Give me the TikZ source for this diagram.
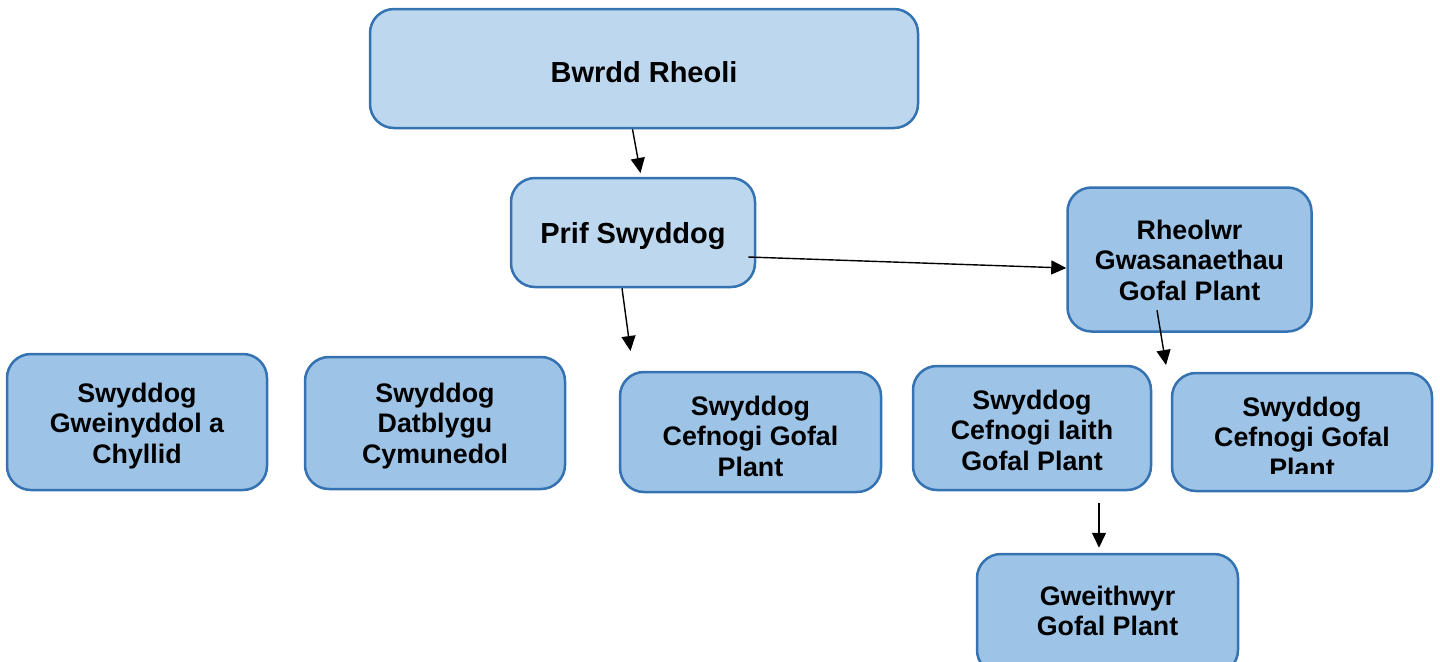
\documentclass[tikz,border=0pt]{standalone}
\usepackage{fontspec}
\setmainfont{Liberation Sans}
\usetikzlibrary{arrows.meta,calc}
\definecolor{bord}{RGB}{52,114,178}
\definecolor{lightfill}{RGB}{189,215,238}
\definecolor{midfill}{RGB}{157,195,230}
\begin{document}
\begin{tikzpicture}[x=0.5pt,y=-0.5pt,
  box/.style={draw=bord, line width=1.25pt, rounded corners=12pt, inner sep=0pt},
  topbox/.style={box, fill=lightfill},
  subbox/.style={box, fill=midfill},
  lbl/.style={align=center, inner sep=0pt, font=\bfseries\fontsize{13.4}{15.25}\selectfont},
  biglbl/.style={align=center, inner sep=0pt, font=\bfseries\fontsize{14.5}{17}\selectfont},
  conn/.style={-{Triangle[length=7.5pt,width=7pt]}, line width=0.7pt, black}]
\useasboundingbox (0,0) rectangle (1440,661);

% boxes
\node[topbox,minimum width=274pt,minimum height=59.5pt] (bwrdd) at (644,68.5) {};
\node[topbox,minimum width=122pt,minimum height=54.5pt] (prif) at (633,232.5) {};
\node[subbox,minimum width=122pt,minimum height=72pt] (rheolwr) at (1189.5,259.5) {};
\node[subbox,minimum width=130pt,minimum height=68pt] (gwein) at (137,422) {};
\node[subbox,minimum width=130pt,minimum height=66pt] (datb) at (435,423) {};
\node[subbox,minimum width=130.5pt,minimum height=60pt] (cefA) at (750.5,432) {};
\node[subbox,minimum width=119pt,minimum height=62pt] (iaith) at (1032,428) {};
\node[subbox,minimum width=130pt,minimum height=59pt] (cefB) at (1302,432) {};
\node[subbox,minimum width=130.5pt,minimum height=60pt] (gweith) at (1107.5,614) {};

% texts
\node[biglbl] (bwrddT) at (644,72.5) {Bwrdd Rheoli};
\node[biglbl] (prifT) at (633,236.5) {Prif Swyddog};
\node[lbl] (rheolwrT) at (1189.5,260) {Rheolwr\\Gwasanaethau\\Gofal Plant};
\node[lbl] (gweinT) at (137,426) {Swyddog\\Gweinyddol a\\Chyllid};
\node[lbl] (datbT) at (435,426) {Swyddog\\Datblygu\\Cymunedol};
\node[lbl] (cefAT) at (750.5,436) {Swyddog\\Cefnogi Gofal\\Plant};
\node[lbl] (iaithT) at (1032,430) {Swyddog\\Cefnogi Iaith\\Gofal Plant};
\begin{scope}
  \clip (1172,373) rectangle (1432,473.5);
  \node[lbl] (cefBT) at (1302,437) {Swyddog\\Cefnogi Gofal\\Plant};
\end{scope}
\node[lbl] (gweithT) at (1107.5,611) {Gweithwyr\\Gofal Plant};

% connectors
\coordinate (endA) at (640.5,173);
\coordinate (endC) at (630.5,351);
\coordinate (endD) at (1166,365);

\draw[conn] ($(bwrdd.south)+(-11.5,0)$) -- (endA);
\draw[conn] ($(prif.east)+(-8,24.5)$) -- ($(rheolwr.west)+(0,8.5)$);
\draw[conn] ($(prif.south)+(-11,0)$) -- (endC);
\draw[conn] ($(rheolwr.south)+(-32.5,-22.5)$) -- (endD);
\draw[conn] ($(iaith.south)+(67,12)$) -- ($(gweith.north)+(-8.5,-5)$);
\end{tikzpicture}
\end{document}
